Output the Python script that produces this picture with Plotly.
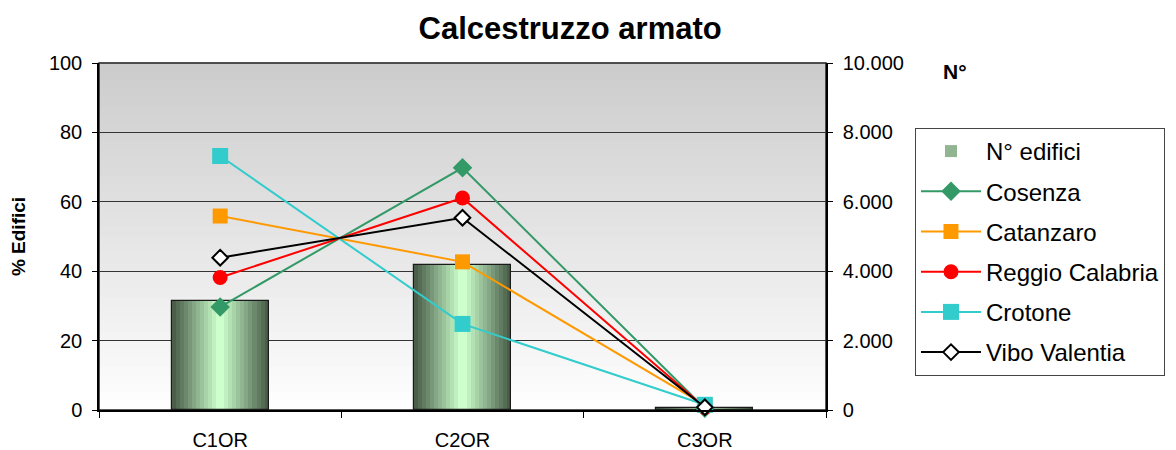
import plotly.graph_objects as go

categories = ["C1OR", "C2OR", "C3OR"]
n_edifici = [3140, 4180, 50]
cosenza = [29.7, 69.8, 0.5]
catanzaro = [55.9, 42.7, 1.4]
reggio = [38.2, 61.1, 0.7]
crotone = [73.2, 24.8, 1.5]
vibo = [43.9, 55.4, 0.8]

left_ticks = [0, 20, 40, 60, 80, 100]
right_ticks = [0, 2000, 4000, 6000, 8000, 10000]

FONT = "Liberation Sans, Arial, sans-serif"

fig = go.Figure()

# Bars with horizontal gradient emulated by stacked overlay layers
N = 12
dark = (74, 94, 74)
light = (204, 255, 204)
for k in range(N):
    t = k / (N - 1)
    c = tuple(int(dark[i] + (light[i] - dark[i]) * t) for i in range(3))
    w = 0.4 * (1 - k / N)
    fig.add_trace(go.Bar(
        x=categories, y=n_edifici, width=w,
        marker=dict(color="rgb(%d,%d,%d)" % c, line=dict(width=0)),
        showlegend=(k == N // 2), name="N° edifici", legendgroup="g0",
        yaxis="y", hoverinfo="skip",
    ))
# outline
fig.add_trace(go.Bar(
    x=categories, y=n_edifici, width=0.4,
    marker=dict(color="rgba(0,0,0,0)", line=dict(width=1.2, color="#1a1a1a")),
    showlegend=False, legendgroup="g0", yaxis="y", hoverinfo="skip",
))

series = [
    ("Cosenza", cosenza, "#339966", dict(symbol="diamond", size=15, color="#339966")),
    ("Catanzaro", catanzaro, "#FF9900", dict(symbol="square", size=15, color="#FF9900")),
    ("Reggio Calabria", reggio, "#FF0000", dict(symbol="circle", size=15, color="#FF0000")),
    ("Crotone", crotone, "#33CCCC", dict(symbol="square", size=16, color="#33CCCC")),
    ("Vibo Valentia", vibo, "#000000", dict(symbol="diamond", size=12, color="white",
                                             line=dict(color="black", width=2))),
]
for i, (name, vals, col, mk) in enumerate(series):
    fig.add_trace(go.Scatter(
        x=categories, y=vals, name=name, mode="lines+markers",
        line=dict(color=col, width=2), marker=mk, yaxis="y2",
        legendgroup="g%d" % (i + 1), cliponaxis=False,
    ))

# vertical gradient background
shapes = []
S = 40
for k in range(S):
    t0 = k / S
    t1 = (k + 1) / S
    tm = (t0 + t1) / 2
    v = int(255 - (255 - 204) * tm)
    shapes.append(dict(type="rect", xref="x domain", yref="y domain",
                       x0=0, x1=1, y0=t0, y1=t1 + 0.002, layer="below",
                       line=dict(width=0), fillcolor="rgb(%d,%d,%d)" % (v, v, v)))
shapes.append(dict(type="rect", xref="x domain", yref="y domain", x0=0, x1=1,
                   y0=0, y1=1, layer="below", line=dict(width=1.5, color="#222"),
                   fillcolor="rgba(0,0,0,0)"))

fig.update_layout(
    width=1176, height=450,
    margin=dict(l=91, r=358, t=55, b=48, autoexpand=False),
    paper_bgcolor="white", plot_bgcolor="white",
    separators=",.",
    barmode="overlay", bargap=0,
    font=dict(family=FONT, color="black", size=18),
    title=dict(text="<b>Calcestruzzo armato</b>", x=0.478, xanchor="center",
               y=0.955, yanchor="middle", font=dict(size=31, family=FONT)),
    shapes=shapes,
    xaxis=dict(type="category", range=[-0.5, 2.5], tickson="boundaries",
               ticks="outside", ticklen=6, tickcolor="black", showline=True,
               linecolor="black", linewidth=1.5, showgrid=False,
               tickfont=dict(size=20), ticklabelstandoff=11),
    yaxis=dict(side="right", range=[0, 10000], tickvals=right_ticks,
               tickformat=",d", ticks="outside", ticklen=5, tickcolor="black",
               showline=True, linecolor="black", linewidth=1.5,
               showgrid=True, gridcolor="#333333", gridwidth=1.2,
               zeroline=False, tickfont=dict(size=20), ticklabelstandoff=6),
    yaxis2=dict(side="left", overlaying="y", range=[0, 100], tickvals=left_ticks,
                ticks="outside", ticklen=5, tickcolor="black", showline=True,
                linecolor="black", linewidth=1.5, showgrid=False, zeroline=False,
                tickfont=dict(size=20), ticklabelstandoff=6,
                title=dict(text="<b>% Edifici</b>", font=dict(size=19), standoff=30)),
    legend=dict(x=1.1224, xanchor="left", y=0.8127, yanchor="top",
                bordercolor="#444", borderwidth=1, bgcolor="white",
                font=dict(size=24, family=FONT), tracegroupgap=6,
                traceorder="grouped", itemwidth=60),
    annotations=[dict(text="<b>N°</b>", xref="paper", yref="paper",
                      x=1.177, y=0.975, xanchor="center", yanchor="middle",
                      showarrow=False, font=dict(size=21, family=FONT))],
)

fig.write_html("out.html")
